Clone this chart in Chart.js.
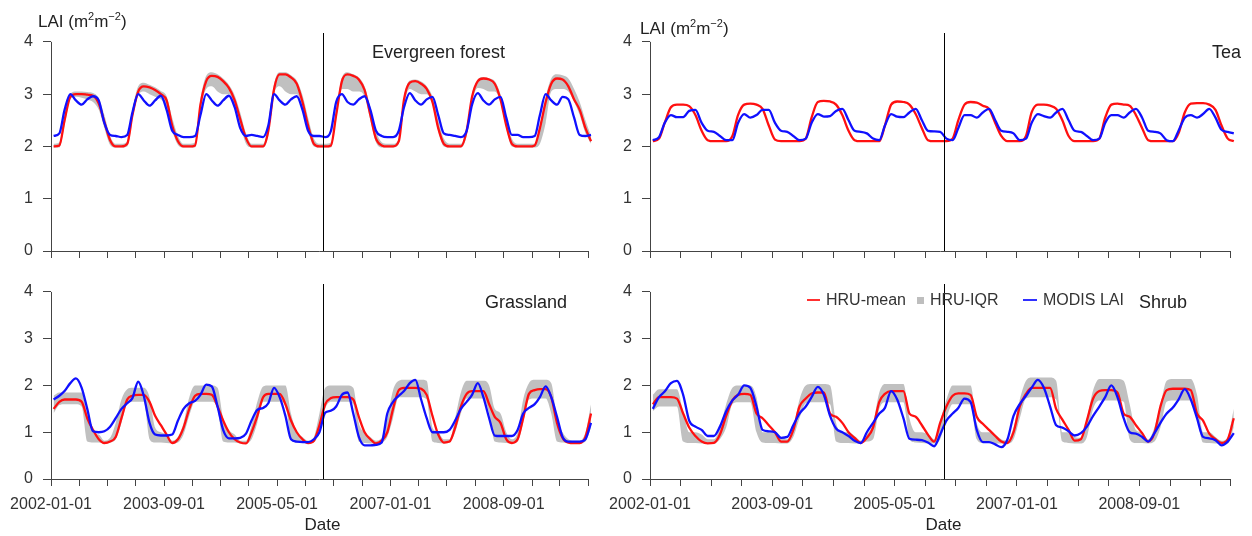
<!DOCTYPE html>
<html>
<head>
<meta charset="utf-8">
<script src="https://cdn.jsdelivr.net/npm/chart.js@4.4.1/dist/chart.umd.min.js"></script>
<style>
  body { margin: 0; background: #fff; font-family: "Liberation Sans", Arial, sans-serif; color: #222; }
  #page { position: relative; width: 1252px; height: 536px; overflow: hidden; }
  canvas { position: absolute; }
  .txt { position: absolute; white-space: nowrap; line-height: 20px; }
  .unit { font-size: 17px; }
  .unit sup { font-size: 11px; vertical-align: 7px; line-height: 0; }
  .panel { font-size: 18px; }
  .leg { font-size: 16px; color: #333; }
  .swatch { position: absolute; }
</style>
</head>
<body>
<div id="page">
  <canvas id="evergreenChart" width="620" height="265" style="left:0;top:0"></canvas>
  <canvas id="teaChart" width="692" height="265" style="left:560px;top:0"></canvas>
  <canvas id="grassChart" width="620" height="271" style="left:0;top:265px"></canvas>
  <canvas id="shrubChart" width="692" height="271" style="left:560px;top:265px"></canvas>

  <div class="txt unit" style="left:38px;top:12px">LAI (m<sup>2</sup>m<sup>−2</sup>)</div>
  <div class="txt unit" style="left:640px;top:19px">LAI (m<sup>2</sup>m<sup>−2</sup>)</div>

  <div class="txt panel" style="left:372px;top:42px">Evergreen forest</div>
  <div class="txt panel" style="left:1212px;top:42px">Tea</div>
  <div class="txt panel" style="left:485px;top:292px">Grassland</div>
  <div class="txt panel" style="left:1139px;top:292px">Shrub</div>

  <div class="swatch" style="left:807px;top:299px;width:13px;height:2px;background:#ff3030"></div>
  <div class="txt leg" style="left:826px;top:290px">HRU-mean</div>
  <div class="swatch" style="left:917px;top:297px;width:7px;height:7px;background:#bebebe"></div>
  <div class="txt leg" style="left:930px;top:290px">HRU-IQR</div>
  <div class="swatch" style="left:1023px;top:299px;width:14px;height:2px;background:#3030ff"></div>
  <div class="txt leg" style="left:1043px;top:290px">MODIS LAI</div>
</div>

<script>
// dates on the x axis
const startDate = '2002-01-01';
const endDate = '2009-12-31';
const splitDate = '2006-01-01';
const tickDates = ['2002-01-01', '2002-06-01', '2002-11-01', '2003-04-01', '2003-09-01',
    '2004-02-01', '2004-07-01', '2004-12-01', '2005-05-01', '2005-10-01',
    '2006-03-01', '2006-08-01', '2007-01-01', '2007-06-01', '2007-11-01',
    '2008-04-01', '2008-09-01', '2009-02-01', '2009-07-01', '2009-12-01'];
const labelDates = ['2002-01-01', '2003-09-01', '2005-05-01', '2007-01-01', '2008-09-01'];
const yTicks = [0, 1, 2, 3, 4];

// monthly values, Jan..Dec per row, 2002..2009
const evergreenMean = [
    2.0, 2.02, 2.5, 2.95, 3.0, 3.0, 2.99, 2.97, 2.82, 2.47, 2.12, 2.0,
    2.0, 2.05, 2.6, 3.05, 3.15, 3.13, 3.08, 3.0, 2.88, 2.4, 2.1, 2.0,
    2.0, 2.02, 2.8, 3.25, 3.35, 3.33, 3.25, 3.12, 2.88, 2.52, 2.16, 2.0,
    2.0, 2.0, 2.3, 3.1, 3.38, 3.38, 3.32, 3.2, 2.85, 2.4, 2.05, 2.0,
    2.0, 2.02, 2.6, 3.25, 3.38, 3.35, 3.28, 3.08, 2.6, 2.15, 2.02, 2.0,
    2.0, 2.1, 2.9, 3.22, 3.25, 3.2, 3.1, 2.85, 2.35, 2.05, 2.0, 2.0,
    2.0, 2.3, 2.95, 3.25, 3.3, 3.28, 3.2, 2.9, 2.4, 2.05, 2.0, 2.0,
    2.0, 2.02, 2.35, 2.85, 3.2, 3.3, 3.28, 3.15, 2.9, 2.7, 2.35, 2.1
];
const evergreenQ1 = [
    1.98, 1.98, 2.4, 2.9, 2.95, 2.93, 2.9, 2.85, 2.7, 2.35, 2.03, 1.98,
    1.98, 2.0, 2.5, 2.98, 3.05, 3.0, 2.95, 2.9, 2.75, 2.3, 2.03, 1.98,
    1.98, 1.98, 2.7, 3.1, 3.15, 3.05, 3.0, 3.0, 2.75, 2.4, 2.05, 1.98,
    1.98, 1.98, 2.2, 3.0, 3.15, 3.05, 3.0, 3.0, 2.75, 2.3, 2.0, 1.98,
    1.98, 1.98, 2.5, 3.1, 3.1, 3.05, 3.05, 2.95, 2.5, 2.08, 1.98, 1.98,
    1.98, 2.05, 2.8, 3.1, 3.05, 3.0, 3.0, 2.8, 2.3, 2.0, 1.98, 1.98,
    1.98, 2.2, 2.85, 3.12, 3.1, 3.05, 3.05, 2.85, 2.35, 2.0, 1.98, 1.98,
    1.98, 1.98, 2.05, 2.45, 3.05, 3.1, 3.1, 3.05, 2.85, 2.6, 2.25, 2.05
];
const evergreenQ3 = [
    2.05, 2.08, 2.6, 3.0, 3.05, 3.05, 3.04, 3.02, 2.92, 2.6, 2.2, 2.05,
    2.05, 2.1, 2.7, 3.15, 3.22, 3.18, 3.13, 3.06, 2.96, 2.55, 2.2, 2.05,
    2.05, 2.08, 2.9, 3.35, 3.42, 3.38, 3.3, 3.18, 2.98, 2.65, 2.25, 2.05,
    2.05, 2.05, 2.4, 3.2, 3.42, 3.42, 3.36, 3.26, 2.98, 2.55, 2.15, 2.05,
    2.05, 2.08, 2.7, 3.32, 3.42, 3.38, 3.32, 3.15, 2.75, 2.3, 2.08, 2.05,
    2.05, 2.15, 2.95, 3.26, 3.28, 3.24, 3.15, 2.95, 2.5, 2.15, 2.05, 2.05,
    2.05, 2.35, 3.0, 3.28, 3.33, 3.3, 3.25, 3.0, 2.55, 2.15, 2.05, 2.05,
    2.05, 2.05, 2.4, 2.95, 3.3, 3.38, 3.36, 3.3, 3.1, 2.85, 2.5, 2.2
];
const evergreenModis = [
    2.2, 2.25, 2.7, 3.0, 2.88, 2.8, 2.9, 2.96, 2.88, 2.45, 2.22, 2.2,
    2.18, 2.22, 2.65, 3.0, 2.88, 2.78, 2.88, 2.97, 2.7, 2.3, 2.22, 2.18,
    2.18, 2.2, 2.6, 3.0, 2.88, 2.78, 2.88, 2.97, 2.75, 2.35, 2.2, 2.22,
    2.2, 2.18, 2.4, 3.0, 2.88, 2.8, 2.9, 2.96, 2.7, 2.3, 2.2, 2.2,
    2.18, 2.3, 2.85, 3.0, 2.85, 2.8, 2.9, 2.96, 2.7, 2.3, 2.2, 2.18,
    2.18, 2.3, 2.75, 3.02, 2.88, 2.8, 2.9, 2.95, 2.6, 2.25, 2.22, 2.2,
    2.18, 2.3, 2.8, 3.02, 2.88, 2.8, 2.9, 2.95, 2.55, 2.22, 2.22, 2.18,
    2.18, 2.2, 2.6, 3.0, 2.88, 2.8, 2.95, 2.9, 2.55, 2.22, 2.2, 2.22
];

const teaMean = [
    2.1, 2.15, 2.45, 2.75, 2.8, 2.8, 2.77, 2.6, 2.3, 2.12, 2.1, 2.1,
    2.1, 2.2, 2.6, 2.8, 2.82, 2.8, 2.72, 2.4, 2.13, 2.1, 2.1, 2.1,
    2.1, 2.15, 2.55, 2.85, 2.87, 2.86, 2.8, 2.6, 2.3, 2.12, 2.1, 2.1,
    2.1, 2.1, 2.4, 2.8, 2.86, 2.85, 2.8, 2.62, 2.35, 2.12, 2.1, 2.1,
    2.1, 2.15, 2.5, 2.8, 2.85, 2.84, 2.78, 2.72, 2.45, 2.2, 2.1, 2.1,
    2.1, 2.2, 2.65, 2.8, 2.8, 2.78, 2.72, 2.5, 2.2, 2.1, 2.1, 2.1,
    2.1, 2.15, 2.55, 2.8, 2.82, 2.8, 2.78, 2.6, 2.35, 2.12, 2.1, 2.1,
    2.1, 2.1, 2.25, 2.65, 2.82, 2.83, 2.83, 2.8, 2.7, 2.4, 2.15, 2.1
];
const teaModis = [
    2.12, 2.18, 2.45, 2.6, 2.56, 2.56, 2.68, 2.7, 2.45, 2.3, 2.28, 2.2,
    2.12, 2.12, 2.45, 2.62, 2.55, 2.6, 2.7, 2.7, 2.45, 2.3, 2.28, 2.2,
    2.12, 2.15, 2.45, 2.62, 2.57, 2.58, 2.68, 2.72, 2.5, 2.3, 2.28, 2.25,
    2.15, 2.12, 2.4, 2.62, 2.57, 2.56, 2.65, 2.72, 2.5, 2.3, 2.29, 2.28,
    2.15, 2.12, 2.35, 2.6, 2.6, 2.55, 2.65, 2.72, 2.5, 2.3, 2.28, 2.25,
    2.12, 2.15, 2.45, 2.62, 2.58, 2.55, 2.65, 2.72, 2.5, 2.3, 2.28, 2.2,
    2.12, 2.15, 2.45, 2.6, 2.6, 2.55, 2.65, 2.72, 2.55, 2.3, 2.28, 2.25,
    2.12, 2.1, 2.3, 2.55, 2.6, 2.55, 2.62, 2.72, 2.55, 2.32, 2.28, 2.25
];

const grassMean = [
    1.5, 1.65, 1.7, 1.7, 1.7, 1.65, 1.3, 1.05, 0.85, 0.77, 0.8, 0.9,
    1.3, 1.7, 1.78, 1.8, 1.8, 1.65, 1.35, 1.15, 0.95, 0.77, 0.85, 1.1,
    1.5, 1.78, 1.82, 1.82, 1.8, 1.55, 1.25, 1.0, 0.85, 0.78, 0.76, 1.0,
    1.35, 1.75, 1.82, 1.82, 1.82, 1.6, 1.25, 1.0, 0.85, 0.77, 0.82, 1.15,
    1.6, 1.73, 1.75, 1.75, 1.75, 1.7, 1.33, 1.0, 0.85, 0.76, 0.82, 1.0,
    1.5, 1.9, 1.95, 1.95, 1.95, 1.93, 1.8, 1.35, 0.95, 0.78, 0.8, 1.1,
    1.55, 1.82, 1.88, 1.88, 1.88, 1.6, 1.33, 1.2, 0.85, 0.77, 0.85, 1.3,
    1.82, 1.9, 1.92, 1.92, 1.75, 1.2, 0.88, 0.78, 0.77, 0.77, 0.9, 1.4
];
const grassQ1 = [
    1.4, 1.58, 1.6, 1.6, 1.6, 1.55, 0.8, 0.78, 0.78, 0.76, 0.78, 0.85,
    1.2, 1.62, 1.65, 1.65, 1.65, 0.85, 0.78, 0.78, 0.77, 0.76, 0.78, 0.95,
    1.35, 1.65, 1.65, 1.65, 1.65, 1.5, 0.8, 0.78, 0.78, 0.76, 0.76, 0.85,
    1.2, 1.65, 1.65, 1.65, 1.65, 1.6, 0.85, 0.78, 0.77, 0.76, 0.78, 1.0,
    1.5, 1.65, 1.65, 1.65, 1.65, 1.6, 0.8, 0.77, 0.76, 0.76, 0.78, 0.9,
    1.3, 1.75, 1.75, 1.75, 1.75, 1.75, 1.7, 0.8, 0.77, 0.76, 0.78, 1.0,
    1.4, 1.72, 1.72, 1.72, 1.72, 1.4, 0.8, 0.78, 0.77, 0.76, 0.8, 1.2,
    1.7, 1.72, 1.72, 1.72, 1.4, 0.8, 0.78, 0.77, 0.76, 0.76, 0.8, 1.1
];
const grassQ3 = [
    1.78, 1.85, 1.85, 1.85, 1.85, 1.85, 1.4, 1.0, 0.95, 0.82, 0.88, 1.2,
    1.7, 1.92, 1.95, 1.95, 1.95, 1.75, 1.1, 1.0, 0.95, 0.82, 0.9, 1.2,
    1.75, 2.0, 2.0, 2.0, 2.0, 1.95, 1.3, 1.05, 0.95, 0.82, 0.82, 1.15,
    1.65, 1.98, 2.0, 2.0, 2.0, 2.0, 1.4, 1.0, 0.9, 0.82, 0.9, 1.4,
    1.95, 2.0, 2.0, 2.0, 2.0, 1.95, 1.2, 1.0, 0.9, 0.82, 0.88, 1.3,
    1.9, 2.1, 2.12, 2.12, 2.12, 2.12, 2.1, 1.1, 1.0, 0.85, 0.85, 1.3,
    1.85, 2.1, 2.1, 2.1, 2.1, 2.0, 1.5, 1.4, 1.0, 0.85, 1.0, 1.7,
    2.05, 2.12, 2.12, 2.12, 2.05, 1.3, 1.0, 0.85, 0.82, 0.82, 1.0, 1.6
];
const grassModis = [
    1.7, 1.78, 1.88, 2.05, 2.15, 1.95, 1.5, 1.02, 1.0, 1.02, 1.12, 1.3,
    1.5, 1.62, 1.73, 2.08, 1.78, 1.2, 0.95, 0.93, 0.93, 0.95, 1.25, 1.5,
    1.62, 1.67, 1.8, 2.02, 1.98, 1.55, 1.05, 0.87, 0.87, 0.88, 0.97, 1.25,
    1.48, 1.52, 1.62, 1.95, 1.75, 1.35, 0.85, 0.8, 0.79, 0.79, 0.85, 1.0,
    1.42, 1.46, 1.55, 1.8, 1.85, 1.4, 0.9, 0.72, 0.72, 0.73, 0.78, 1.4,
    1.65, 1.78, 1.88, 2.05, 2.12, 1.7, 1.3, 1.0, 1.0, 1.0, 1.05, 1.25,
    1.5, 1.65, 1.8, 2.05, 1.75, 1.3, 0.93, 0.92, 0.92, 0.92, 1.05, 1.4,
    1.52, 1.6, 1.75, 1.98, 1.75, 1.33, 0.9, 0.8, 0.8, 0.8, 0.85, 1.2
];

const shrubMean = [
    1.6, 1.75, 1.75, 1.75, 1.72, 1.4, 1.1, 0.92, 0.8, 0.76, 0.77, 0.95,
    1.35, 1.68, 1.8, 1.82, 1.8, 1.4, 1.3, 1.15, 1.0, 0.8, 0.8, 1.05,
    1.55, 1.72, 1.83, 1.85, 1.85, 1.4, 1.33, 1.2, 1.0, 0.88, 0.77, 0.88,
    1.1, 1.65, 1.82, 1.88, 1.88, 1.88, 1.4, 1.33, 1.15, 0.95, 0.8, 1.2,
    1.55, 1.78, 1.83, 1.83, 1.8, 1.33, 1.18, 1.05, 0.92, 0.8, 0.77, 1.0,
    1.55, 1.82, 1.95, 1.95, 1.95, 1.95, 1.5, 1.27, 1.05, 0.82, 0.85, 1.25,
    1.72, 1.88, 1.9, 1.9, 1.85, 1.4, 1.33, 1.15, 0.98, 0.8, 0.98, 1.55,
    1.9, 1.93, 1.93, 1.93, 1.9, 1.4, 1.25, 0.97, 0.85, 0.77, 0.85, 1.3
];
const shrubQ1 = [
    1.45, 1.55, 1.55, 1.55, 1.55, 0.8, 0.77, 0.77, 0.76, 0.76, 0.76, 0.85,
    1.1, 1.6, 1.64, 1.64, 1.64, 1.0, 0.78, 0.77, 0.77, 0.76, 0.76, 0.9,
    1.3, 1.62, 1.64, 1.64, 1.64, 1.6, 0.8, 0.77, 0.77, 0.76, 0.76, 0.8,
    0.85, 1.5, 1.64, 1.64, 1.64, 1.64, 0.85, 0.78, 0.77, 0.76, 0.76, 0.85,
    1.3, 1.6, 1.6, 1.6, 1.6, 0.85, 0.77, 0.77, 0.76, 0.76, 0.76, 0.85,
    1.3, 1.72, 1.75, 1.75, 1.75, 1.75, 1.7, 0.8, 0.77, 0.76, 0.76, 0.9,
    1.5, 1.68, 1.68, 1.68, 1.68, 1.65, 0.85, 0.77, 0.77, 0.76, 0.8, 1.1,
    1.65, 1.68, 1.68, 1.68, 1.68, 1.3, 0.78, 0.77, 0.76, 0.76, 0.76, 1.1
];
const shrubQ3 = [
    1.8, 1.92, 1.92, 1.92, 1.92, 1.45, 1.0, 1.0, 0.95, 0.85, 0.85, 1.1,
    1.6, 1.95, 2.0, 2.0, 2.0, 1.75, 1.0, 1.0, 1.0, 0.9, 0.85, 1.1,
    1.7, 2.0, 2.03, 2.03, 2.03, 2.0, 1.2, 1.0, 1.0, 0.92, 0.82, 0.95,
    1.2, 1.85, 2.03, 2.03, 2.03, 2.03, 1.3, 1.0, 1.0, 0.95, 0.85, 1.25,
    1.7, 2.0, 2.0, 2.0, 2.0, 1.2, 1.0, 1.0, 0.95, 0.85, 0.82, 1.1,
    1.7, 2.1, 2.17, 2.17, 2.17, 2.17, 2.1, 1.0, 1.0, 0.9, 0.88, 1.3,
    1.9, 2.14, 2.14, 2.14, 2.14, 2.1, 1.6, 1.05, 1.0, 0.85, 1.1, 1.6,
    2.1, 2.14, 2.14, 2.14, 2.14, 1.8, 1.0, 1.0, 0.9, 0.82, 0.9, 1.5
];
const shrubModis = [
    1.5, 1.75, 1.87, 2.05, 2.1, 1.8, 1.25, 1.12, 1.05, 0.92, 0.92, 1.12,
    1.45, 1.68, 1.8, 2.0, 1.95, 1.55, 1.05, 1.02, 1.0, 0.88, 0.9, 1.15,
    1.4, 1.55, 1.75, 1.97, 1.8, 1.35, 1.08, 1.0, 0.92, 0.82, 0.77, 1.0,
    1.2, 1.4, 1.52, 1.88, 1.7, 1.3, 0.86, 0.84, 0.83, 0.78, 0.7, 0.95,
    1.25, 1.4, 1.52, 1.72, 1.65, 1.05, 0.79, 0.79, 0.74, 0.68, 0.85, 1.35,
    1.6, 1.78, 1.95, 2.12, 1.95, 1.55, 1.15, 1.1, 1.02, 0.93, 0.98, 1.12,
    1.35, 1.55, 1.75, 2.0, 1.75, 1.3, 1.0, 0.97, 0.9, 0.8, 0.98, 1.2,
    1.4, 1.53, 1.7, 1.92, 1.7, 1.3, 0.9, 0.87, 0.83, 0.72, 0.8, 0.98
];

Chart.defaults.font.family = '"Liberation Sans", Arial, sans-serif';
Chart.defaults.color = '#333';

const dayOf = s => (Date.parse(s) - Date.parse(startDate)) / 864e5;
// x position of each monthly value: middle of the month
const monthDays = evergreenMean.map((v, i) => (Date.UTC(2002, i, 15) - Date.parse(startDate)) / 864e5);
const pts = arr => arr.map((v, i) => ({ x: monthDays[i], y: v }));

// R style axes: lines only between end ticks, plus the split line
const rAxes = {
    id: 'rAxes',
    afterDraw(chart) {
        const { ctx, chartArea } = chart;
        const x = chart.scales.x, y = chart.scales.y;
        ctx.save();
        ctx.lineWidth = 1;
        ctx.strokeStyle = '#444';
        ctx.beginPath();
        const xl = Math.round(chartArea.left) + 0.5;
        ctx.moveTo(xl, y.getPixelForValue(yTicks[0]));
        ctx.lineTo(xl, y.getPixelForValue(yTicks[yTicks.length - 1]));
        const yb = Math.round(y.getPixelForValue(0)) + 0.5;
        ctx.moveTo(x.getPixelForValue(dayOf(tickDates[0])), yb);
        ctx.lineTo(x.getPixelForValue(dayOf(tickDates[tickDates.length - 1])), yb);
        ctx.stroke();
        ctx.strokeStyle = '#000';
        const xs = Math.round(x.getPixelForValue(dayOf(splitDate))) + 0.5;
        ctx.beginPath();
        ctx.moveTo(xs, chartArea.top);
        ctx.lineTo(xs, chartArea.bottom);
        ctx.stroke();
        ctx.restore();
    }
};

function makePanel(id, mean, modis, q1, q3, opt) {
    const datasets = [
        { label: 'MODIS LAI', data: pts(modis), borderColor: '#1010ff', borderWidth: 2.3, order: 0 },
        { label: 'HRU-mean', data: pts(mean), borderColor: '#ff1010', borderWidth: 2.3, order: 1 }
    ];
    if (q1) {
        datasets.push({ label: 'HRU-IQR', data: pts(q3), borderColor: 'rgba(0,0,0,0)', borderWidth: 1,
            backgroundColor: '#c0c0c0', fill: 3, order: 2 });
        datasets.push({ label: 'HRU-IQR low', data: pts(q1), borderColor: 'rgba(0,0,0,0)', borderWidth: 1,
            fill: false, order: 3 });
    }
    return new Chart(document.getElementById(id), {
        type: 'line',
        data: { datasets: datasets },
        plugins: [rAxes],
        options: {
            responsive: false,
            animation: false,
            devicePixelRatio: 1,
            layout: { padding: { left: opt.padLeft, right: opt.padRight, top: opt.padTop, bottom: 0 } },
            elements: {
                point: { radius: 0 },
                line: { cubicInterpolationMode: 'monotone' }
            },
            plugins: { legend: { display: false }, tooltip: { enabled: false } },
            scales: {
                x: {
                    type: 'linear',
                    min: 0,
                    max: dayOf(endDate),
                    afterBuildTicks: s => { s.ticks = tickDates.map(d => ({ value: dayOf(d) })); },
                    afterFit: s => { s.height = opt.dates ? 57 : 14; s.paddingLeft = 0; s.paddingRight = 0; },
                    grid: { drawOnChartArea: false, drawTicks: true, tickLength: 7, color: '#444' },
                    border: { display: false },
                    ticks: {
                        autoSkip: false,
                        maxRotation: 0,
                        padding: 9,
                        color: '#333',
                        font: { size: 16 },
                        callback: v => {
                            if (!opt.dates) return '';
                            const d = labelDates.find(s => dayOf(s) === v);
                            return d || '';
                        }
                    },
                    title: { display: opt.dates, text: 'Date', color: '#222', font: { size: 17 }, padding: { top: 1, bottom: 0 } }
                },
                y: {
                    min: 0,
                    max: 4.17,
                    afterBuildTicks: s => { s.ticks = yTicks.map(v => ({ value: v })); },
                    afterFit: s => { s.width = opt.yWidth; s.paddingTop = 0; s.paddingBottom = 0; },
                    grid: { drawOnChartArea: false, drawTicks: true, tickLength: 8, color: '#444' },
                    border: { display: false },
                    ticks: { padding: 10, color: '#333', font: { size: 16 }, callback: v => String(v) }
                }
            }
        }
    });
}

makePanel('evergreenChart', evergreenMean, evergreenModis, evergreenQ1, evergreenQ3,
    { padLeft: 11, padRight: 26, padTop: 33, yWidth: 40, dates: false });
makePanel('teaChart', teaMean, teaModis, null, null,
    { padLeft: 60, padRight: 15, padTop: 33, yWidth: 30, dates: false });
makePanel('grassChart', grassMean, grassModis, grassQ1, grassQ3,
    { padLeft: 11, padRight: 26, padTop: 19, yWidth: 40, dates: true });
makePanel('shrubChart', shrubMean, shrubModis, shrubQ1, shrubQ3,
    { padLeft: 60, padRight: 15, padTop: 19, yWidth: 30, dates: true });
</script>
</body>
</html>
